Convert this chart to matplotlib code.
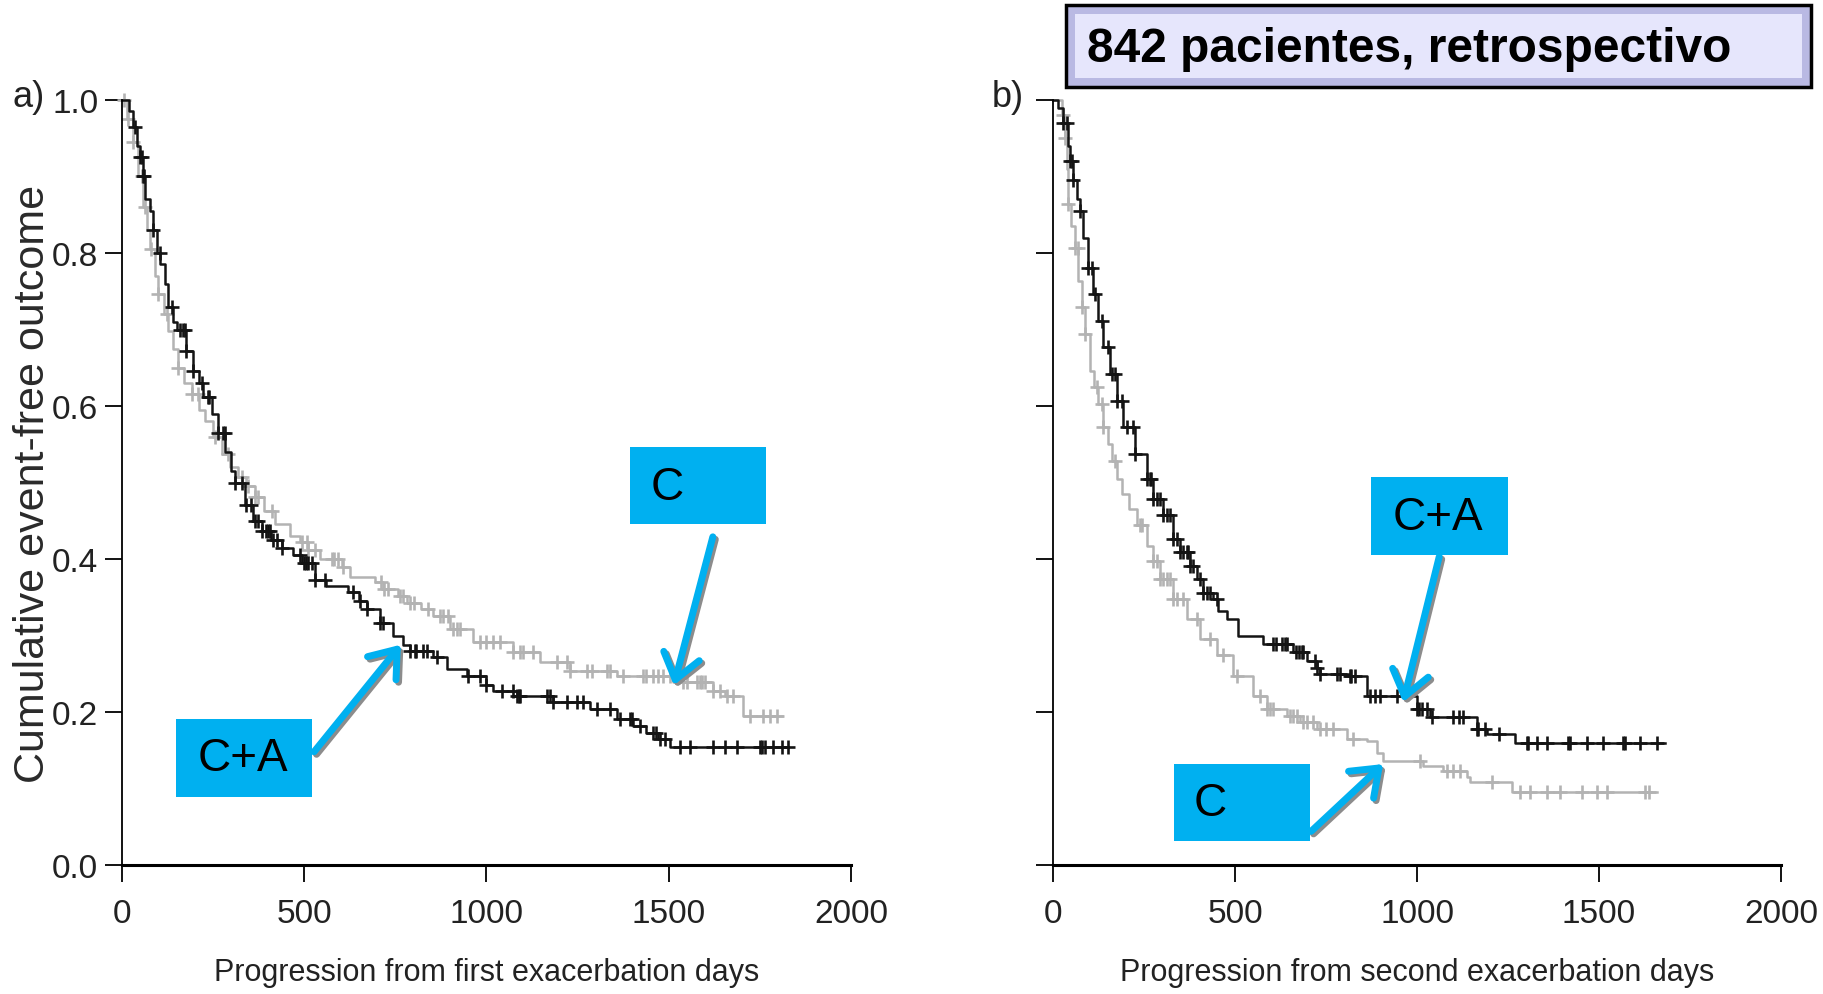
import numpy as np
import matplotlib
matplotlib.use("Agg")
import matplotlib.pyplot as plt
from matplotlib.patches import Rectangle, FancyArrowPatch
from matplotlib.transforms import ScaledTranslation

# Kaplan-Meier steps: time of each drop (days) and survival after it
a_ca_t = [0, 20, 31, 40, 49, 58, 63, 77, 86, 95, 105, 118, 127, 140, 150, 177, 196, 210,
          223, 246, 264, 283, 300, 310, 337, 360, 383, 410, 438, 470, 493, 530, 560, 621,
          650, 671, 708, 744, 772, 790, 854, 891, 946, 1000, 1019, 1083, 1183, 1284, 1357,
          1403, 1439, 1470, 1503]
a_ca_s = [1.0, 0.985, 0.965, 0.94, 0.925, 0.90, 0.87, 0.855, 0.83, 0.80, 0.785, 0.76, 0.73,
          0.71, 0.70, 0.672, 0.646, 0.63, 0.612, 0.59, 0.565, 0.54, 0.515, 0.50, 0.47, 0.45,
          0.437, 0.425, 0.415, 0.405, 0.395, 0.372, 0.365, 0.357, 0.345, 0.335, 0.317, 0.30,
          0.287, 0.28, 0.272, 0.256, 0.247, 0.235, 0.228, 0.221, 0.213, 0.204, 0.191, 0.182,
          0.173, 0.165, 0.154]
a_ca_end = 1828
a_ca_cens = [36, 49, 54, 58, 60, 86, 104, 136, 159, 168, 172, 177, 196, 219, 237, 240, 264,
             278, 282, 310, 328, 340, 355, 365, 373, 385, 395, 400, 405, 415, 425, 438, 488,
             500, 505, 510, 520, 530, 557, 635, 653, 671, 708, 717, 790, 804, 808, 827, 836,
             863, 950, 982, 1000, 1042, 1074, 1083, 1088, 1092, 1165, 1174, 1183, 1220, 1247,
             1266, 1302, 1339, 1366, 1394, 1400, 1421, 1458, 1466, 1476, 1490, 1531, 1558,
             1622, 1654, 1686, 1750, 1755, 1763, 1787, 1810, 1828]

a_c_t = [0, 15, 31, 45, 58, 70, 77, 90, 100, 115, 127, 140, 154, 170, 191, 210, 228, 250,
         274, 296, 319, 340, 365, 390, 420, 460, 488, 511, 543, 603, 626, 694, 717, 758, 781,
         820, 854, 900, 964, 1074, 1147, 1229, 1357, 1513, 1622, 1655, 1705]
a_c_s = [1.0, 0.975, 0.945, 0.90, 0.86, 0.83, 0.805, 0.77, 0.746, 0.72, 0.698, 0.675, 0.65,
         0.63, 0.616, 0.595, 0.581, 0.56, 0.537, 0.52, 0.507, 0.495, 0.481, 0.463, 0.446,
         0.43, 0.422, 0.412, 0.40, 0.39, 0.376, 0.37, 0.361, 0.352, 0.343, 0.335, 0.326,
         0.308, 0.291, 0.278, 0.265, 0.254, 0.247, 0.239, 0.228, 0.221, 0.195]
a_c_end = 1810
a_c_cens = [5, 17, 31, 54, 63, 81, 100, 123, 154, 191, 209, 255, 292, 328, 347, 365, 374,
            411, 493, 507, 511, 530, 575, 583, 592, 607, 712, 720, 731, 763, 770, 790, 800,
            840, 872, 881, 895, 908, 918, 927, 982, 1000, 1019, 1037, 1074, 1092, 1101, 1128,
            1193, 1220, 1229, 1275, 1289, 1330, 1339, 1375, 1430, 1439, 1458, 1471, 1485,
            1503, 1540, 1549, 1577, 1585, 1590, 1600, 1622, 1641, 1659, 1677, 1723, 1760,
            1778, 1796]

b_ca_t = [0, 15, 28, 40, 47, 56, 65, 74, 83, 97, 111, 124, 138, 157, 175, 193, 225, 257,
          276, 303, 331, 349, 376, 395, 413, 440, 454, 477, 509, 578, 660, 697, 724, 734,
          816, 862, 999, 1036, 1164, 1192, 1269]
b_ca_s = [1.0, 0.99, 0.97, 0.94, 0.92, 0.895, 0.87, 0.855, 0.82, 0.78, 0.746, 0.711, 0.677,
          0.642, 0.607, 0.572, 0.537, 0.505, 0.478, 0.457, 0.426, 0.409, 0.391, 0.374, 0.356,
          0.348, 0.332, 0.322, 0.30, 0.289, 0.278, 0.267, 0.258, 0.25, 0.247, 0.221, 0.204,
          0.193, 0.178, 0.171, 0.16]
b_ca_end = 1682
b_ca_cens = [28, 38, 47, 52, 56, 74, 97, 106, 115, 134, 152, 161, 170, 175, 189, 203, 221,
             225, 257, 266, 270, 276, 285, 294, 303, 312, 321, 331, 340, 349, 358, 367, 372,
             376, 385, 404, 413, 422, 431, 450, 605, 614, 630, 637, 642, 668, 677, 683, 688,
             720, 724, 734, 780, 788, 816, 820, 830, 871, 885, 899, 944, 999, 1005, 1013,
             1027, 1041, 1100, 1114, 1127, 1164, 1168, 1187, 1224, 1302, 1306, 1329, 1357,
             1416, 1420, 1467, 1512, 1567, 1571, 1613, 1659]

b_c_t = [0, 25, 33, 38, 42, 50, 60, 70, 79, 88, 101, 113, 124, 138, 150, 161, 175, 189, 210,
         230, 257, 275, 294, 331, 367, 404, 450, 495, 550, 587, 642, 679, 725, 807, 862, 889,
         907, 1017, 1072, 1136, 1146, 1260]
b_c_s = [1.0, 0.98, 0.95, 0.91, 0.864, 0.835, 0.807, 0.764, 0.729, 0.694, 0.646, 0.625,
         0.603, 0.572, 0.55, 0.528, 0.505, 0.485, 0.465, 0.445, 0.417, 0.398, 0.374, 0.348,
         0.322, 0.295, 0.274, 0.247, 0.221, 0.204, 0.195, 0.187, 0.178, 0.165, 0.162, 0.147,
         0.136, 0.13, 0.123, 0.115, 0.108, 0.095]
b_c_end = 1659
b_c_cens = [28, 33, 42, 60, 69, 79, 88, 120, 134, 138, 170, 239, 244, 276, 285, 294, 303,
            312, 321, 331, 340, 358, 395, 431, 468, 505, 569, 587, 596, 605, 651, 660, 669,
            687, 697, 715, 733, 751, 770, 825, 1008, 1082, 1100, 1118, 1206, 1283, 1311, 1357,
            1393, 1453, 1494, 1522, 1627, 1636]

x_ticks = [0, 500, 1000, 1500, 2000]
y_ticks = [0.0, 0.2, 0.4, 0.6, 0.8, 1.0]

FONT = ["Liberation Sans", "DejaVu Sans"]
plt.rcParams["font.family"] = FONT
BLUE = "#00b0f0"
BLACK = "#141414"
GREY = "#b3b3b3"
INK = "#222222"


def km_curve(ax, times, surv, end, cens, color):
    times = np.asarray(times, dtype=float)
    surv = np.asarray(surv, dtype=float)
    t = np.append(times, end)
    s = np.append(surv, surv[-1])
    ax.step(t, s, where="post", color=color, lw=1.8, clip_on=False)
    idx = np.searchsorted(times, cens, side="right") - 1
    ax.plot(cens, surv[idx], ls="none", marker="+", ms=10.5, mew=1.9,
            color=color, clip_on=False)


def label_box(ax, x0, x1, y0, y1, tx, ty, text):
    ax.add_patch(Rectangle((x0, y0), x1 - x0, y1 - y0, facecolor=BLUE,
                           edgecolor="none", clip_on=False, zorder=5))
    ax.text(tx, ty, text, ha="left", va="center", fontsize=33, color="black", zorder=6)


def arrow(ax, tail, head):
    shadow = ax.transData + ScaledTranslation(2.5 / 100, -2.5 / 100, ax.figure.dpi_scale_trans)
    for tr, col, z in [(shadow, "#8c8c8c", 6), (ax.transData, BLUE, 7)]:
        ax.add_patch(FancyArrowPatch(tail, head, transform=tr,
                                     arrowstyle="->,head_length=0.8,head_width=0.6",
                                     mutation_scale=22, lw=5, color=col,
                                     clip_on=False, zorder=z,
                                     shrinkA=0, shrinkB=0))


def setup_axes(ax, xlabel, show_ylabels):
    ax.set_xlim(0, 2000)
    ax.set_ylim(0, 1)
    ax.spines["top"].set_visible(False)
    ax.spines["right"].set_visible(False)
    ax.spines["left"].set_linewidth(1.3)
    ax.spines["bottom"].set_linewidth(2.2)
    ax.set_xticks(x_ticks)
    ax.set_yticks(y_ticks)
    ax.set_xticklabels([str(v) for v in x_ticks], fontsize=24, color=INK)
    if show_ylabels:
        ax.set_yticklabels(["%.1f" % v for v in y_ticks], fontsize=24, color=INK)
    else:
        ax.set_yticklabels([])
    ax.tick_params(axis="x", direction="out", length=12, width=1.3, pad=12)
    ax.tick_params(axis="y", direction="out", length=12, width=1.3, pad=5)
    ax.set_xlabel(xlabel, fontsize=22, color=INK, labelpad=20)


fig = plt.figure(figsize=(18.23, 9.95), dpi=100)
ax_a = fig.add_axes([0.0669, 0.1296, 0.3999, 0.7689])
ax_b = fig.add_axes([0.5776, 0.1296, 0.3994, 0.7689])

# panel a: from first exacerbation
km_curve(ax_a, a_c_t, a_c_s, a_c_end, a_c_cens, GREY)
km_curve(ax_a, a_ca_t, a_ca_s, a_ca_end, a_ca_cens, BLACK)
setup_axes(ax_a, "Progression from first exacerbation days", True)
ax_a.set_ylabel("Cumulative event-free outcome", fontsize=31, color="#2a2a2a")
ax_a.yaxis.set_label_coords(-0.095, 0.5)
label_box(ax_a, 1394, 1767, 0.446, 0.546, 1451, 0.494, "C")
label_box(ax_a, 148, 521, 0.089, 0.191, 208, 0.140, "C+A")
arrow(ax_a, (1621, 0.429), (1514, 0.235))
arrow(ax_a, (527, 0.148), (765, 0.288))

# panel b: from second exacerbation
km_curve(ax_b, b_c_t, b_c_s, b_c_end, b_c_cens, GREY)
km_curve(ax_b, b_ca_t, b_ca_s, b_ca_end, b_ca_cens, BLACK)
setup_axes(ax_b, "Progression from second exacerbation days", False)
label_box(ax_b, 874, 1250, 0.405, 0.507, 932, 0.455, "C+A")
label_box(ax_b, 333, 706, 0.031, 0.132, 387, 0.081, "C")
arrow(ax_b, (1061, 0.403), (962, 0.213))
arrow(ax_b, (709, 0.044), (907, 0.132))

fig.text(12 / 1823, 1 - 98 / 995, "a)", fontsize=26, color=INK, ha="left", va="center")
fig.text(992 / 1823, 1 - 98 / 995, "b)", fontsize=26, color=INK, ha="left", va="center")

# title banner with a bevelled lavender face
bx0, by0, bw, bh = 1066 / 1823, 1 - 88 / 995, 745 / 1823, 82 / 995
fig.patches.append(Rectangle((bx0, by0), bw, bh, transform=fig.transFigure,
                             facecolor="#b9b9e3", edgecolor="none"))
ix, iy = 9 / 1823, 9 / 995
fig.patches.append(Rectangle((bx0 + ix, by0 + iy), bw - 2 * ix, bh - 2 * iy,
                             transform=fig.transFigure, facecolor="#e6e6fc", edgecolor="none"))
fig.patches.append(Rectangle((bx0, by0), bw, bh, transform=fig.transFigure,
                             facecolor="none", edgecolor="black", lw=2.5))
fig.text(1087 / 1823, 1 - 49 / 995, "842 pacientes, retrospectivo",
         fontsize=34.5, fontweight="bold", color="black", ha="left", va="center")

fig.savefig("out.png", dpi=100)
